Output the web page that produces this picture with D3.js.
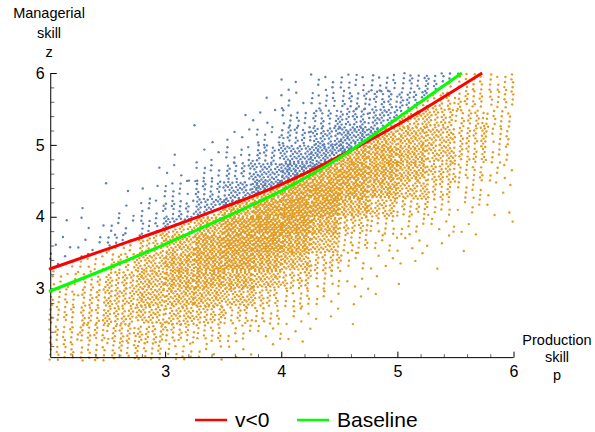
<!DOCTYPE html>
<html>
<head>
<meta charset="utf-8">
<script src="https://cdn.jsdelivr.net/npm/d3@7"></script>
<style>
  body { margin: 0; background: #fff; }
  text { font-family: "Liberation Sans", Arial, sans-serif; }
</style>
</head>
<body>
<div id="chart"></div>
<script>
// binned point counts (0.25 x 0.25 cells)
const pBins = [2, 2.25, 2.5, 2.75, 3, 3.25, 3.5, 3.75, 4, 4.25, 4.5, 4.75, 5, 5.25, 5.5, 5.75];
const zBins = [5.75, 5.5, 5.25, 5, 4.75, 4.5, 4.25, 4, 3.75, 3.5, 3.25, 3, 2.75, 2.5, 2.25, 2]; // top row first
const binSize = 0.25;
const pointCounts = [
  [0, 0, 0, 0, 0, 0, 0, 0, 3, 7, 12, 15, 17, 17, 16, 15],
  [0, 0, 0, 0, 0, 0, 0, 1, 6, 13, 20, 25, 28, 26, 22, 16],
  [0, 0, 0, 0, 0, 1, 1, 4, 13, 23, 33, 39, 39, 35, 26, 16],
  [0, 0, 0, 0, 0, 1, 4, 10, 25, 41, 58, 62, 58, 46, 28, 15],
  [0, 0, 0, 0, 1, 4, 10, 25, 45, 62, 80, 80, 66, 46, 24, 12],
  [0, 0, 0, 1, 4, 10, 23, 46, 71, 87, 95, 85, 62, 38, 17, 7],
  [0, 1, 1, 4, 10, 22, 44, 73, 97, 104, 92, 72, 44, 25, 10, 4],
  [0, 1, 3, 9, 20, 41, 70, 99, 112, 102, 67, 41, 20, 12, 6, 3],
  [1, 3, 7, 17, 38, 67, 96, 112, 107, 75, 32, 13, 9, 6, 3, 1],
  [3, 6, 15, 32, 59, 87, 104, 104, 87, 49, 17, 7, 4, 3, 1, 0],
  [6, 12, 25, 46, 73, 90, 94, 81, 58, 28, 9, 4, 3, 1, 0, 0],
  [10, 19, 35, 55, 73, 78, 71, 54, 32, 13, 4, 1, 1, 0, 0, 0],
  [16, 25, 39, 54, 59, 57, 45, 30, 15, 6, 3, 1, 0, 0, 0, 0],
  [19, 26, 36, 42, 42, 35, 23, 15, 6, 3, 1, 0, 0, 0, 0, 0],
  [19, 23, 28, 29, 25, 17, 10, 6, 3, 1, 0, 0, 0, 0, 0, 0],
  [17, 17, 19, 17, 13, 7, 4, 1, 0, 0, 0, 0, 0, 0, 0, 0]
];

// curves
const redP = [2.0, 2.5, 3.0, 3.5, 4.0, 4.5, 5.0, 5.73];
const redZ = [3.27, 3.55, 3.83, 4.13, 4.45, 4.84, 5.28, 6.0];
const greenP = [2.0, 2.5, 3.0, 3.5, 4.0, 4.5, 5.0, 5.555];
const greenZ = [2.96, 3.28, 3.62, 3.98, 4.36, 4.82, 5.37, 6.0];

const xTicks = [3, 4, 5, 6];
const yTicks = [3, 4, 5, 6];
const minorTicks = [2.2, 2.4, 2.6, 2.8, 3.2, 3.4, 3.6, 3.8, 4.2, 4.4, 4.6, 4.8, 5.2, 5.4, 5.6, 5.8];
const legendItems = [{label: "v<0", color: "#ff0000"}, {label: "Baseline", color: "#00ff00"}];

const W = 595, H = 432;
const svg = d3.select("#chart").append("svg").attr("width", W).attr("height", H);

const x = d3.scaleLinear().domain([2, 6]).range([49, 513.5]);
const y = d3.scaleLinear().domain([2, 6]).range([360.5, 73]);
const redAt = d3.scaleLinear().domain(redP).range(redZ);
const greenAt = d3.scaleLinear().domain(greenP).range(greenZ);

// spread each cell's points evenly inside the cell
const pts = [];
let k = 0;
pointCounts.forEach((row, r) => {
  row.forEach((n, c) => {
    for (let i = 0; i < n; i++, k++) {
      const u = (0.5 + k * 0.7548776662466927) % 1;
      const v = (0.5 + k * 0.5698402909980532) % 1;
      const p = pBins[c] + u * binSize, z = zBins[r] + v * binSize;
      pts.push({p, z, above: z > Math.max(redAt(p), greenAt(p))});
    }
  });
});

svg.append("g").selectAll("circle").data(pts).join("circle")
  .attr("cx", d => x(d.p)).attr("cy", d => y(d.z)).attr("r", 1.2)
  .attr("fill", d => d.above ? "#5e81b5" : "#e19c24");

// axes at the plot origin
const x0 = x(2.015), y0 = y(2.04);
const xAxis = svg.append("g").attr("transform", `translate(0,${y0})`);
xAxis.call(d3.axisBottom(x).tickValues(minorTicks).tickSize(-3.5).tickFormat(""))
  .call(g => g.select(".domain").remove())
  .call(g => g.selectAll("line").attr("stroke", "#666"));
xAxis.append("g").call(d3.axisBottom(x).tickValues(xTicks).tickSize(-6).tickFormat(d3.format("d")))
  .call(g => g.select(".domain").remove())
  .call(g => g.selectAll("text").attr("y", 8).attr("dy", "0.71em").attr("font-size", 16)
    .attr("font-family", "Liberation Sans, Arial, sans-serif").attr("fill", "#000"));
xAxis.append("line").attr("x1", x0).attr("x2", x(6)).attr("stroke", "#000");

const yAxis = svg.append("g").attr("transform", `translate(${x0},0)`);
yAxis.call(d3.axisLeft(y).tickValues(minorTicks).tickSize(-3.5).tickFormat(""))
  .call(g => g.select(".domain").remove())
  .call(g => g.selectAll("line").attr("stroke", "#666"));
yAxis.append("g").call(d3.axisLeft(y).tickValues(yTicks).tickSize(-6).tickFormat(d3.format("d")))
  .call(g => g.select(".domain").remove())
  .call(g => g.selectAll("text").attr("x", -6).attr("font-size", 16)
    .attr("font-family", "Liberation Sans, Arial, sans-serif").attr("fill", "#000"));
yAxis.append("line").attr("y1", y0).attr("y2", y(6)).attr("stroke", "#000");

// curves
const line = d3.line().x(d => x(d[0])).y(d => y(d[1])).curve(d3.curveMonotoneX);
svg.append("path").datum(redP.map((p, i) => [p, redZ[i]])).attr("d", line)
  .attr("fill", "none").attr("stroke", "#ff0000").attr("stroke-width", 3);
svg.append("path").datum(greenP.map((p, i) => [p, greenZ[i]])).attr("d", line)
  .attr("fill", "none").attr("stroke", "#00ff00").attr("stroke-width", 3);

// axis labels
svg.append("text").attr("text-anchor", "middle").attr("font-size", 14.5)
  .selectAll("tspan").data(["Managerial", "skill", "z"]).join("tspan")
  .attr("x", 49).attr("y", (d, i) => 18 + i * 19.5).text(d => d);
svg.append("text").attr("text-anchor", "middle").attr("font-size", 14.5)
  .selectAll("tspan").data(["Production", "skill", "p"]).join("tspan")
  .attr("x", 557).attr("y", (d, i) => 345 + i * 17.3).text(d => d);

// legend
const lg = svg.append("g").attr("transform", "translate(195,420)");
const offs = [0, 102];
legendItems.forEach((d, i) => {
  const g = lg.append("g").attr("transform", `translate(${offs[i]},0)`);
  g.append("line").attr("x1", 0).attr("x2", 32).attr("stroke", d.color).attr("stroke-width", 2.5);
  g.append("text").attr("x", 40).attr("y", 7).attr("font-size", 21).text(d.label);
});
</script>
</body>
</html>
